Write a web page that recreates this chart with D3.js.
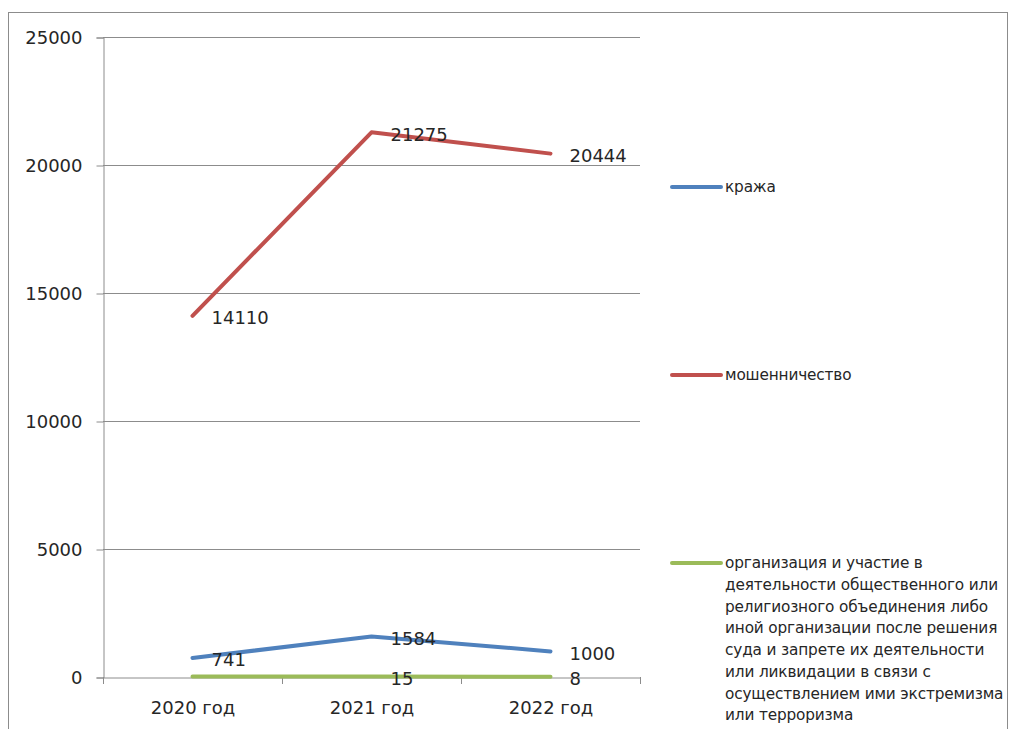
<!DOCTYPE html>
<html>
<head>
<meta charset="utf-8">
<script src="https://cdn.jsdelivr.net/npm/d3@7"></script>
<style>
  html, body { margin: 0; padding: 0; background: #fff; }
  svg { display: block; }
  text { font-family: "DejaVu Sans", sans-serif; fill: #262626; }
</style>
</head>
<body>
<svg id="chart" width="1011" height="729"></svg>
<script>
// Годы наблюдения
const years = ["2020 год", "2021 год", "2022 год"];

// Число преступлений по видам
const theft = [741, 1584, 1000];
const fraud = [14110, 21275, 20444];
const extremistOrg = [22, 15, 8];

// Подписи значений (для точки 2020 года у третьего ряда подпись не выводится)
const theftLabels = ["741", "1584", "1000"];
const fraudLabels = ["14110", "21275", "20444"];
const extremistLabels = [null, "15", "8"];

// Деления оси значений
const yTicks = [0, 5000, 10000, 15000, 20000, 25000];

const seriesNames = [
  "кража",
  "мошенничество",
  "организация и участие в деятельности общественного или религиозного объединения либо иной организации после решения суда и запрете их деятельности или ликвидации в связи с осуществлением ими экстремизма или терроризма"
];

// Строки легенды для длинного названия
const legendLines3 = [
  "организация и участие в",
  "деятельности общественного или",
  "религиозного объединения либо",
  "иной организации после решения",
  "суда и запрете их деятельности",
  "или ликвидации в связи с",
  "осуществлением ими экстремизма",
  "или терроризма"
];

const colors = ["#4F81BD", "#C0504D", "#9BBB59"];

const series = [
  { name: seriesNames[0], values: theft, labels: theftLabels, color: colors[0] },
  { name: seriesNames[1], values: fraud, labels: fraudLabels, color: colors[1] },
  { name: seriesNames[2], values: extremistOrg, labels: extremistLabels, color: colors[2] }
];

const svg = d3.select("#chart");

// Рамка области диаграммы
svg.append("rect")
  .attr("x", 8.5).attr("y", 12.5)
  .attr("width", 999).attr("height", 740)
  .attr("fill", "none").attr("stroke", "#8c8c8c").attr("stroke-width", 1);

const plot = { left: 103, right: 640, top: 37, bottom: 677 };

const x = d3.scaleBand().domain(years).range([plot.left, plot.right]);
const y = d3.scaleLinear().domain([0, 25000]).range([plot.bottom, plot.top]);

// Горизонтальные линии сетки
svg.append("g")
  .selectAll("line")
  .data(yTicks.filter(t => t > 0))
  .join("line")
  .attr("x1", plot.left).attr("x2", plot.right)
  .attr("y1", d => Math.round(y(d)) + 0.5).attr("y2", d => Math.round(y(d)) + 0.5)
  .attr("stroke", "#8c8c8c").attr("stroke-width", 1);

// Ось значений
const yAxis = svg.append("g")
  .attr("transform", `translate(${plot.left + 0.5},0.5)`)
  .call(d3.axisLeft(y).tickValues(yTicks).tickSize(7).tickPadding(14).tickFormat(d3.format("d")));
yAxis.select(".domain").attr("stroke", "#8c8c8c");
yAxis.selectAll(".tick line").attr("stroke", "#8c8c8c");
yAxis.selectAll(".tick text")
  .attr("font-size", 18).attr("font-family", "DejaVu Sans, sans-serif").attr("fill", "#262626");

// Ось категорий
const xAxis = svg.append("g")
  .attr("transform", `translate(0.5,${plot.bottom + 0.5})`)
  .call(d3.axisBottom(x).tickSize(0).tickPadding(24));
xAxis.select(".domain").attr("stroke", "#8c8c8c");
xAxis.selectAll(".tick text")
  .attr("font-size", 18).attr("font-family", "DejaVu Sans, sans-serif").attr("fill", "#262626");

// Засечки между категориями
const bounds = years.map(c => x(c)).concat([x(years[years.length - 1]) + x.bandwidth()]);
svg.append("g")
  .selectAll("line")
  .data(bounds)
  .join("line")
  .attr("x1", d => Math.round(d) + 0.5).attr("x2", d => Math.round(d) + 0.5)
  .attr("y1", plot.bottom).attr("y2", plot.bottom + 7)
  .attr("stroke", "#8c8c8c");

const cx = c => x(c) + x.bandwidth() / 2;

const line = d3.line()
  .x((d, i) => cx(years[i]))
  .y(d => y(d));

// Линии рядов
svg.append("g")
  .selectAll("path")
  .data(series)
  .join("path")
  .attr("d", s => line(s.values))
  .attr("fill", "none")
  .attr("stroke", s => s.color)
  .attr("stroke-width", 4)
  .attr("stroke-linejoin", "round")
  .attr("stroke-linecap", "round");

// Подписи значений справа от точек
series.forEach(s => {
  svg.append("g")
    .selectAll("text")
    .data(s.values.map((v, i) => ({ v, i, label: s.labels[i] })).filter(d => d.label !== null))
    .join("text")
    .attr("x", d => cx(years[d.i]) + 19)
    .attr("y", d => y(d.v) + 2)
    .attr("dy", "0.35em")
    .attr("font-size", 18)
    .text(d => d.label);
});

// Легенда
const legend = svg.append("g");
const legendItems = [
  { color: colors[0], lines: [seriesNames[0]], y: 187 },
  { color: colors[1], lines: [seriesNames[1]], y: 375 },
  { color: colors[2], lines: legendLines3, y: 563 }
];
legendItems.forEach(item => {
  legend.append("line")
    .attr("x1", 672).attr("x2", 721)
    .attr("y1", item.y).attr("y2", item.y)
    .attr("stroke", item.color).attr("stroke-width", 4)
    .attr("stroke-linecap", "round");
  const t = legend.append("text")
    .attr("x", 725).attr("y", item.y)
    .attr("font-size", 15.3)
    .attr("letter-spacing", -0.15);
  item.lines.forEach((l, k) => {
    t.append("tspan")
      .attr("x", 725)
      .attr("y", item.y + k * 21.7)
      .attr("dy", "0.35em")
      .text(l);
  });
});
</script>
</body>
</html>
